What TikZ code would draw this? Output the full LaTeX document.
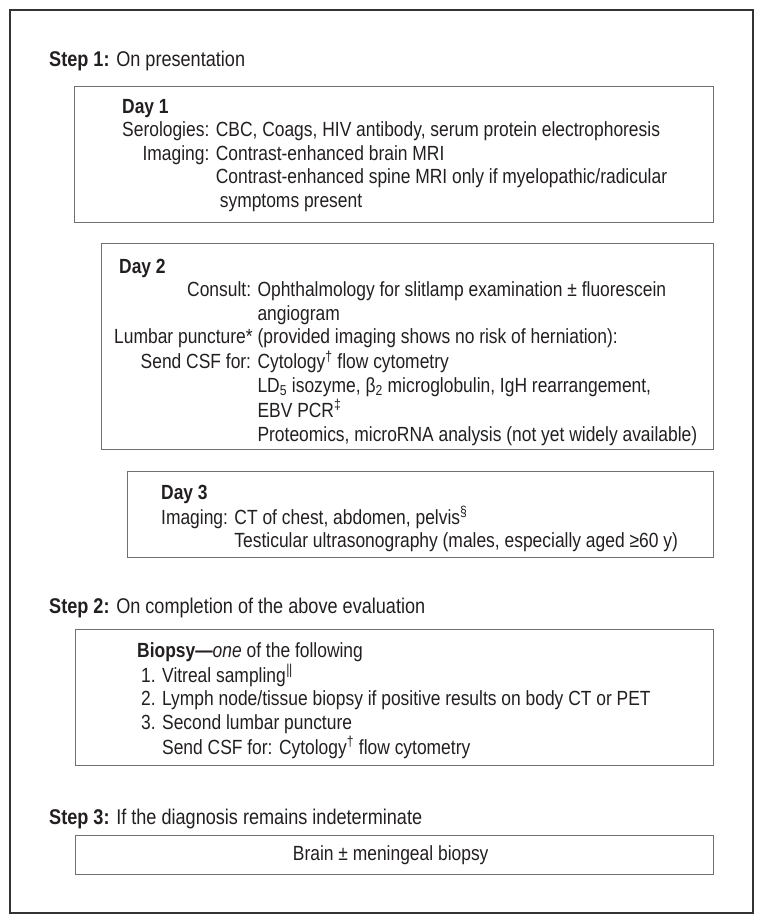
\documentclass[tikz,border=0pt]{standalone}
\usepackage{fontspec}
\setmainfont{Liberation Sans}[FakeStretch=0.85]
\definecolor{ink}{HTML}{231F20}
\definecolor{boxline}{HTML}{707070}
\definecolor{frameline}{HTML}{333333}
\newcommand{\dg}{\textsuperscript{†}}
\newcommand{\ddg}{\textsuperscript{‡}}
\newcommand{\secsym}{\textsuperscript{§}}
\newcommand{\dbar}{\textsuperscript{\kern0.5pt|\kern-0.3pt|}}
\begin{document}
\begin{tikzpicture}[x=1pt,y=-1pt,
  boxstyle/.style={draw=boxline,line width=1.4pt,inner sep=0pt},
  steptext/.style={anchor=base west,inner sep=0pt,text=ink,font=\fontsize{21.3}{26}\selectfont},
  bodytext/.style={anchor=base west,inner sep=0pt,text=ink,font=\fontsize{20.5}{23.6}\selectfont},
  every node/.append style={text=ink}]
\useasboundingbox (0,0) rectangle (764,924);
\draw[frameline,line width=2pt] (10,10) rectangle (753,913);
% Step 1
\node[steptext] (s1) at (49,66) {\textbf{Step 1:} On presentation};
% Day 1 box
\node[boxstyle,minimum width=639pt,minimum height=136pt,anchor=north west] (d1box) at (74,86) {};
\node[bodytext] (d1) at (122,113) {\begin{tabular}[t]{@{}r@{ }l@{}}
\multicolumn{2}{@{}l}{\textbf{Day 1}}\\
Serologies: & CBC, Coags, HIV antibody, serum protein electrophoresis\\
Imaging: & Contrast-enhanced brain MRI\\
 & Contrast-enhanced spine MRI only if myelopathic/radicular\\
 & \hspace{4pt}symptoms present
\end{tabular}};
% Day 2 box
\node[boxstyle,minimum width=612pt,minimum height=206pt,anchor=north west] (d2box) at (101,243) {};
\node[bodytext] (d2) at (114,273) {\begin{tabular}[t]{@{}r@{ }l@{}}
\multicolumn{2}{@{\hspace{5pt}}l}{\textbf{Day 2}}\\
Consult: & Ophthalmology for slitlamp examination ± fluorescein\\
 & angiogram\\
Lumbar puncture* & (provided imaging shows no risk of herniation):\\
Send CSF for: & Cytology\dg{} flow cytometry\\
 & LD\textsubscript{5} isozyme, β\textsubscript{2} microglobulin, IgH rearrangement,\\
 & EBV PCR\ddg\\
 & Proteomics, microRNA analysis (not yet widely available)
\end{tabular}};
% Day 3 box
\node[boxstyle,minimum width=586pt,minimum height=86pt,anchor=north west] (d3box) at (127,471) {};
\node[bodytext] (d3) at (161,499) {\begin{tabular}[t]{@{}l@{ }l@{}}
\multicolumn{2}{@{}l}{\textbf{Day 3}}\\
Imaging: & CT of chest, abdomen, pelvis\secsym\\
 & Testicular ultrasonography (males, especially aged ≥60 y)
\end{tabular}};
% Step 2
\node[steptext] (s2) at (49,613) {\textbf{Step 2:} On completion of the above evaluation};
% Biopsy box
\node[boxstyle,minimum width=638pt,minimum height=136pt,anchor=north west] (bbox) at (75,629) {};
\node[bodytext] (b) at (137,657) {\begin{tabular}[t]{@{}l@{}}
\textbf{Biopsy—}\textit{one} of the following\\
\hspace{4pt}1. Vitreal sampling\dbar\\
\hspace{4pt}2. Lymph node/tissue biopsy if positive results on body CT or PET\\
\hspace{4pt}3. Second lumbar puncture\\
\hspace{4pt}\phantom{3. }Send CSF for: Cytology\dg{} flow cytometry
\end{tabular}};
% Step 3
\node[steptext] (s3) at (49,824) {\textbf{Step 3:} If the diagnosis remains indeterminate};
% Brain box
\node[boxstyle,minimum width=638pt,minimum height=39pt,anchor=north west] (brbox) at (75,835) {};
\node[anchor=center,inner sep=0pt,font=\fontsize{20.5}{23.6}\selectfont] (br) at ([xshift=-4pt]brbox.center) {Brain ± meningeal biopsy};
\end{tikzpicture}
\end{document}
